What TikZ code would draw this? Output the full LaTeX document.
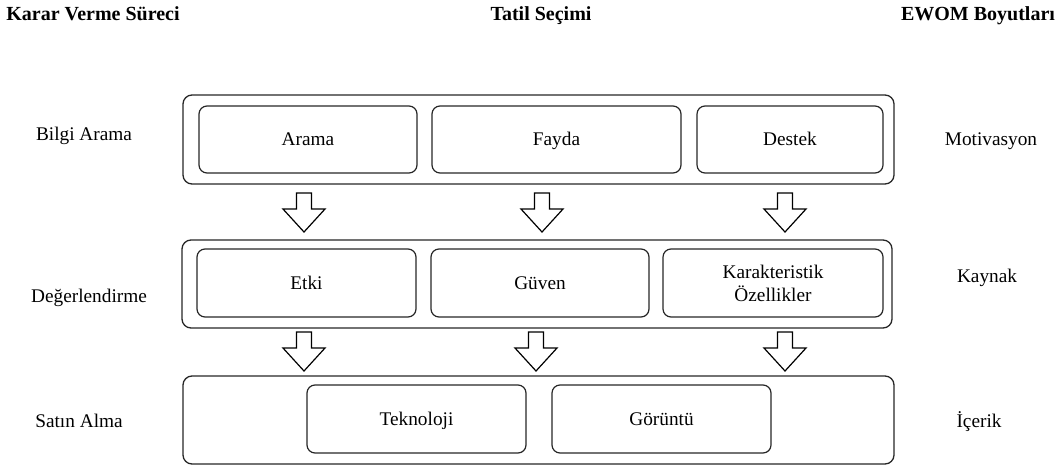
\documentclass[tikz,border=0pt]{standalone}
\usepackage{fontspec}
\setmainfont{Liberation Serif}
\begin{document}
\begin{tikzpicture}[x=1pt,y=-1pt,
  every node/.style={font=\rmfamily\fontsize{19.3}{23}\selectfont, inner sep=0pt},
  title/.style={font=\rmfamily\fontsize{20}{24}\selectfont\bfseries, anchor=base},
  side/.style={anchor=base},
  frame/.style={draw=black!85, line width=1.3pt, rounded corners=9pt},
  item/.style={draw=black!85, line width=1.2pt, rounded corners=8pt, align=center,
    text height=13pt, text depth=1pt},
  twoline/.style={draw=black!85, line width=1.2pt, rounded corners=8pt, align=center},
  pics/downarrow/.style={code={
    \draw[line width=1.2pt, fill=white, line join=miter]
      (-7.5,0) -- (7.5,0) -- (7.5,16) -- (21,16) -- (0,39) -- (-21,16) -- (-7.5,16) -- cycle;
  }}]
\useasboundingbox (0,0) rectangle (1059,468);

% column headings
\node[title] (h1) at (93,21) {Karar Verme Süreci};
\node[title] (h2) at (541,21) {Tatil Seçimi};
\node[title] (h3) at (978,21) {EWOM Boyutları};

% outer frames
\node[frame, minimum width=711pt, minimum height=89pt] (f1) at (538.5,139.5) {};
\node[frame, minimum width=710pt, minimum height=88pt] (f2) at (537,284) {};
\node[frame, minimum width=711pt, minimum height=88pt] (f3) at (538.5,420) {};

% first row
\node[item, minimum width=218pt, minimum height=67pt] (arama) at (308,139.5) {Arama};
\node[item, minimum width=249pt, minimum height=67pt] (fayda) at (556.5,139.5) {Fayda};
\node[item, minimum width=186pt, minimum height=67pt] (destek) at (790,139.5) {Destek};

% second row
\node[item, minimum width=219pt, minimum height=68pt] (etki) at (306.5,283) {Etki};
\node[item, minimum width=218pt, minimum height=68pt] (guven) at (540,283) {Güven};
\node[twoline, minimum width=220pt, minimum height=68pt] (karak) at (773,283) {Karakteristik\\Özellikler};

% third row
\node[item, minimum width=219pt, minimum height=68pt] (tekno) at (416.5,419) {Teknoloji};
\node[item, minimum width=219pt, minimum height=68pt] (goruntu) at (661.5,419) {Görüntü};

% block arrows between the rows
\pic at (304,193) {downarrow};
\pic at (542,193) {downarrow};
\pic at (785,193) {downarrow};
\pic at (304,332) {downarrow};
\pic at (536,332) {downarrow};
\pic at (785,332) {downarrow};

% stage labels (left)
\node[side] (l1) at (84,140) {Bilgi Arama};
\node[side] (l2) at (89,302) {Değerlendirme};
\node[side] (l3) at (79,427) {Satın Alma};

% dimension labels (right)
\node[side] (r1) at (991,146) {Motivasyon};
\node[side] (r2) at (987,282) {Kaynak};
\node[side] (r3) at (979,427) {İçerik};
\end{tikzpicture}
\end{document}
